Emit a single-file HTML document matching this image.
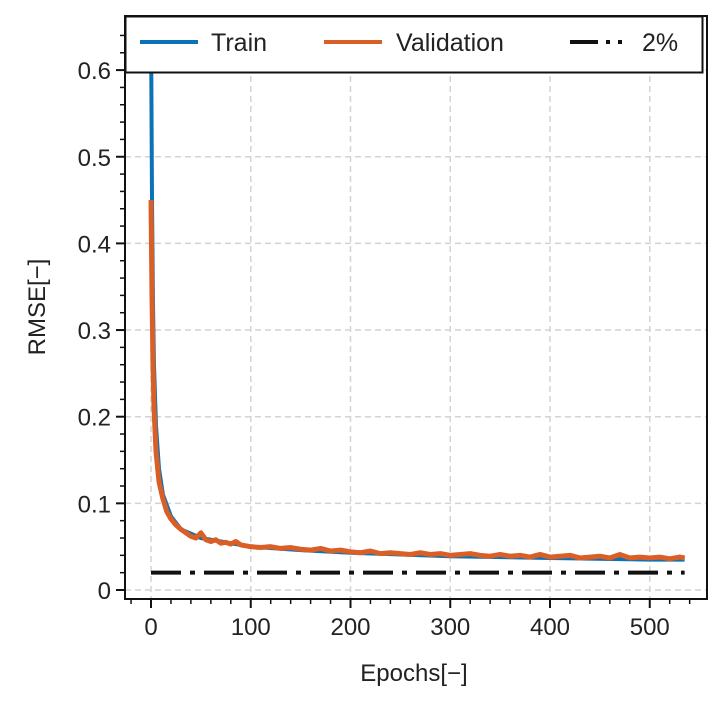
<!DOCTYPE html>
<html><head><meta charset="utf-8"><style>
body{margin:0;background:#fff;}
svg text{font-family:"Liberation Sans",Arial,sans-serif;fill:#222;}
</style></head><body>
<svg id="chart" width="725" height="712">
<g id="grid"></g>
<g id="series"></g>
<g id="axes"></g>
<text x="414" y="681" font-size="24" text-anchor="middle">Epochs[−]</text>
<text transform="translate(45,307) rotate(-90)" font-size="24" text-anchor="middle">RMSE[−]</text>
<g>
<rect x="125.5" y="16.5" width="577" height="56" fill="#fff" stroke="#111" stroke-width="2"/>
<line x1="140" y1="42" x2="198" y2="42" stroke="#0b72b5" stroke-width="4"/>
<text x="211" y="51" font-size="25">Train</text>
<line x1="324" y1="42" x2="382" y2="42" stroke="#d95f27" stroke-width="4"/>
<text x="396" y="51" font-size="25">Validation</text>
<line x1="570" y1="42" x2="628" y2="42" stroke="#111" stroke-width="4" stroke-dasharray="28,8,4,8,4,8"/>
<text x="642" y="51" font-size="25">2%</text>
</g>
</svg>
<script>
const xTicks=[0,100,200,300,400,500];
const yTicks=[0,0.1,0.2,0.3,0.4,0.5,0.6];
const yTickLabels=["0","0.1","0.2","0.3","0.4","0.5","0.6"];
const trainEpochs=[0,1,2,3,5,8,12,20,30,50,75,100,150,200,250,300,400,500,535];
const trainValues=[0.66,0.45,0.33,0.26,0.19,0.14,0.11,0.085,0.07,0.06,0.055,0.05,0.046,0.043,0.041,0.039,0.037,0.035,0.035];
const valEpochs=[0,1,2,3,5,8,12,16,20,25,30,35,40,45,50,55,60,65,70,75,80,85,90,95,100,110,120,130,140,150,160,170,180,190,200,210,220,230,240,250,260,270,280,290,300,310,320,330,340,350,360,370,380,390,400,410,420,430,440,450,460,470,480,490,500,510,520,530,535];
const valValues=[0.45,0.34,0.26,0.21,0.16,0.125,0.105,0.09,0.082,0.075,0.07,0.066,0.062,0.06,0.066,0.058,0.056,0.058,0.054,0.055,0.053,0.056,0.052,0.051,0.05,0.049,0.05,0.048,0.049,0.047,0.046,0.048,0.045,0.046,0.044,0.043,0.045,0.042,0.043,0.042,0.041,0.043,0.041,0.042,0.04,0.041,0.042,0.04,0.039,0.041,0.039,0.04,0.038,0.041,0.038,0.039,0.04,0.037,0.038,0.039,0.037,0.041,0.037,0.038,0.037,0.038,0.036,0.038,0.037];
const threshold=0.02;
const ns="http://www.w3.org/2000/svg";
const L=125,R=707,T=16,B=599;
const x=v=>151+v*0.9975;
const y=v=>590-v*866.5;
function mk(tag,attrs,parent){const e=document.createElementNS(ns,tag);for(const k in attrs)e.setAttribute(k,attrs[k]);document.getElementById(parent).appendChild(e);return e;}
xTicks.forEach(t=>{const g=mk('line',{x1:x(t),x2:x(t),y1:T,y2:B,stroke:'#d3d3d3','stroke-width':1.5,'stroke-dasharray':'6,4'},'grid');

});
yTicks.forEach(t=>{const g=mk('line',{x1:L,x2:R,y1:y(t),y2:y(t),stroke:'#d3d3d3','stroke-width':1.5,'stroke-dasharray':'6,4'},'grid');

});
const clip=mk('clipPath',{id:'pc'},'series');
const cr=document.createElementNS(ns,'rect');cr.setAttribute('x',L);cr.setAttribute('y',T);cr.setAttribute('width',R-L);cr.setAttribute('height',B-T);clip.appendChild(cr);
const tr=mk('path',{d:trainEpochs.map((e,i)=>(i?'L':'M')+x(e)+','+y(trainValues[i])).join(''),fill:'none',stroke:'#0b72b5','stroke-width':4,'clip-path':'url(#pc)'},'series');


const vl=mk('path',{d:valEpochs.map((e,i)=>(i?'L':'M')+x(e)+','+y(valValues[i])).join(''),fill:'none',stroke:'#d95f27','stroke-width':5,'stroke-linejoin':'round','clip-path':'url(#pc)'},'series');


const th=mk('line',{x1:x(0),x2:x(535),y1:y(threshold),y2:y(threshold),stroke:'#111','stroke-width':4,'stroke-dasharray':'30,9,5,9'},'series');


const fr=mk('rect',{x:L,y:T,width:R-L,height:B-T,fill:'none',stroke:'#111','stroke-width':2},'axes');


for(let v=0;v<=0.66;v+=0.02){const maj=Math.abs(v*10-Math.round(v*10))<1e-6;mk('line',{x1:L-(maj?9:5),x2:L,y1:y(v),y2:y(v),stroke:'#111','stroke-width':maj?2:1.5},'axes');}
for(let v=-20;v<=550;v+=20){const maj=v%100===0;mk('line',{x1:x(v),x2:x(v),y1:B,y2:B+(maj?9:5),stroke:'#111','stroke-width':maj?2:1.5},'axes');}
yTicks.forEach((t,i)=>{const e=mk('text',{x:L-14,y:y(t)+9,'font-size':24,'text-anchor':'end'},'axes');e.textContent=yTickLabels[i];

});
xTicks.forEach(t=>{const e=mk('text',{x:x(t),y:B+36,'font-size':24,'text-anchor':'middle'},'axes');e.textContent=String(t);

});
</script>
</body></html>
